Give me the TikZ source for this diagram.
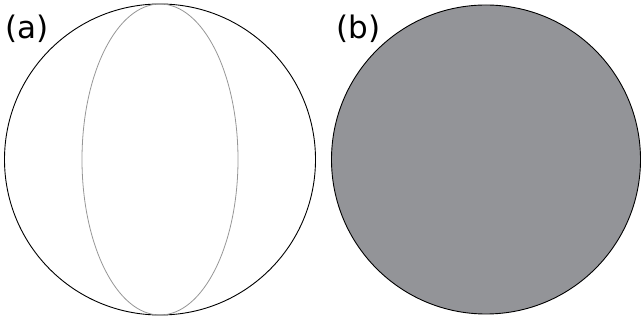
\documentclass[tikz,border=0pt]{standalone}
\usepackage{fontspec}
\setmainfont{DejaVu Sans}
\definecolor{ballgray}{RGB}{147,148,152}
\definecolor{rimgray}{RGB}{150,150,150}
\tikzset{
  panellabel/.style={anchor=base west, inner sep=0pt, font=\fontsize{31}{37}\selectfont},
  rim/.style={draw=black, line width=0.9pt}
}
\begin{document}
\begin{tikzpicture}[x=1pt,y=-1pt]
            \useasboundingbox (0,0) rectangle (641,320);
            % (a) sphere with meridian
            \draw[rim] (160,159.5) circle (155.5);
            \draw[rimgray, line width=0.8pt] (160,159.5) ellipse (78 and 155.5);
            \node[panellabel] (la) at (5.5,38.5) {(a)};
            % (b) filled disc
            \filldraw[ballgray, rim] (486,159.5) circle (154.5);
            \node[panellabel] (lb) at (336.5,38.5) {(b)};
        \end{tikzpicture}
\end{document}
